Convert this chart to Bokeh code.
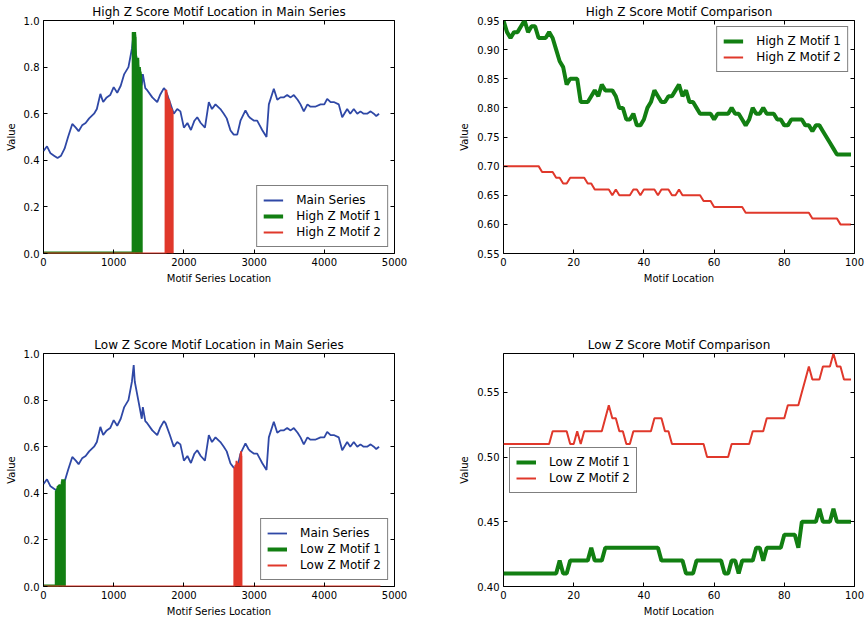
import numpy as np
from bokeh.plotting import figure
from bokeh.layouts import column, row
from bokeh.models import Range1d, LinearAxis, FixedTicker, PrintfTickFormatter, CustomJSTickFormatter
from bokeh.embed import file_html
from bokeh.resources import INLINE

FONT = "DejaVu Sans"
BLUE = "#2f48a6"
GREEN = "#127f12"
RED = "#e0382b"

# ---------------- data ----------------
main_loc = [0, 50, 100, 150, 200, 250, 300, 350, 410, 460, 500, 550, 600, 650, 720, 760,
            810, 850, 900, 950, 1000, 1050, 1100, 1150, 1210, 1260, 1285, 1300, 1350, 1400,
            1415, 1450, 1480, 1550, 1620, 1660, 1715, 1740, 1800, 1856, 1905, 1950, 2000,
            2050, 2100, 2150, 2190, 2240, 2300, 2355, 2400, 2450, 2520, 2568, 2610, 2664,
            2710, 2760, 2806, 2877, 2920, 2950, 3000, 3044, 3080, 3115, 3177, 3210, 3281,
            3330, 3376, 3420, 3471, 3520, 3566, 3620, 3661, 3708, 3760, 3803, 3870, 3946,
            4000, 4041, 4090, 4135, 4206, 4255, 4326, 4370, 4420, 4470, 4515, 4560, 4610,
            4660, 4705, 4740, 4780]
main_val = [0.44, 0.46, 0.43, 0.42, 0.41, 0.42, 0.45, 0.50, 0.556, 0.54, 0.525, 0.55, 0.56, 0.58,
            0.60, 0.62, 0.685, 0.65, 0.67, 0.68, 0.714, 0.69, 0.72, 0.77, 0.80, 0.88, 0.95, 0.88,
            0.80, 0.72, 0.77, 0.71, 0.70, 0.67, 0.65, 0.68, 0.71, 0.70, 0.65, 0.60, 0.62, 0.61,
            0.54, 0.56, 0.53, 0.57, 0.585, 0.56, 0.54, 0.65, 0.62, 0.64, 0.62, 0.60, 0.58, 0.528,
            0.51, 0.51, 0.57, 0.614, 0.59, 0.58, 0.57, 0.57, 0.55, 0.53, 0.50, 0.64, 0.707, 0.66,
            0.67, 0.67, 0.68, 0.67, 0.68, 0.66, 0.64, 0.61, 0.64, 0.63, 0.63, 0.64, 0.64, 0.664,
            0.65, 0.65, 0.64, 0.585, 0.62, 0.60, 0.62, 0.60, 0.61, 0.60, 0.60,
            0.61, 0.60, 0.59, 0.60]

high_z_motif_1 = [0.95, 0.93, 0.92, 0.93, 0.93, 0.94, 0.95, 0.93, 0.94, 0.94,
                  0.92, 0.92, 0.92, 0.93, 0.92, 0.90, 0.88, 0.87, 0.84, 0.85,
                  0.85, 0.85, 0.81, 0.81, 0.81, 0.82, 0.83, 0.82, 0.84, 0.83,
                  0.83, 0.83, 0.82, 0.80, 0.80, 0.78, 0.78, 0.79, 0.77, 0.77,
                  0.78, 0.80, 0.81, 0.83, 0.82, 0.81, 0.81, 0.82, 0.82, 0.83,
                  0.84, 0.82, 0.83, 0.81, 0.81, 0.80, 0.79, 0.79, 0.79, 0.79,
                  0.78, 0.79, 0.79, 0.79, 0.79, 0.80, 0.79, 0.79, 0.78, 0.77,
                  0.78, 0.80, 0.79, 0.79, 0.80, 0.79, 0.79, 0.79, 0.78, 0.78,
                  0.77, 0.77, 0.78, 0.78, 0.78, 0.78, 0.77, 0.77, 0.76, 0.77,
                  0.77, 0.76, 0.75, 0.74, 0.73, 0.72, 0.72, 0.72, 0.72, 0.72]
high_z_motif_2 = [0.70, 0.70, 0.70, 0.70, 0.70, 0.70, 0.70, 0.70, 0.70, 0.70,
                  0.70, 0.69, 0.69, 0.69, 0.69, 0.68, 0.68, 0.67, 0.67, 0.68,
                  0.68, 0.68, 0.68, 0.68, 0.67, 0.67, 0.66, 0.66, 0.66, 0.66,
                  0.66, 0.65, 0.66, 0.65, 0.65, 0.65, 0.65, 0.66, 0.66, 0.65,
                  0.66, 0.66, 0.66, 0.66, 0.65, 0.66, 0.66, 0.66, 0.65, 0.65,
                  0.66, 0.65, 0.65, 0.65, 0.65, 0.65, 0.65, 0.64, 0.64, 0.64,
                  0.63, 0.63, 0.63, 0.63, 0.63, 0.63, 0.63, 0.63, 0.63, 0.62,
                  0.62, 0.62, 0.62, 0.62, 0.62, 0.62, 0.62, 0.62, 0.62, 0.62,
                  0.62, 0.62, 0.62, 0.62, 0.62, 0.62, 0.62, 0.62, 0.61, 0.61,
                  0.61, 0.61, 0.61, 0.61, 0.61, 0.61, 0.60, 0.60, 0.60, 0.60]
low_z_motif_1 = [0.41, 0.41, 0.41, 0.41, 0.41, 0.41, 0.41, 0.41, 0.41, 0.41,
                 0.41, 0.41, 0.41, 0.41, 0.41, 0.41, 0.42, 0.41, 0.41, 0.42,
                 0.42, 0.42, 0.42, 0.42, 0.42, 0.43, 0.42, 0.42, 0.42, 0.43,
                 0.43, 0.43, 0.43, 0.43, 0.43, 0.43, 0.43, 0.43, 0.43, 0.43,
                 0.43, 0.43, 0.43, 0.43, 0.43, 0.42, 0.42, 0.42, 0.42, 0.42,
                 0.42, 0.42, 0.41, 0.41, 0.41, 0.42, 0.42, 0.42, 0.42, 0.42,
                 0.42, 0.42, 0.42, 0.41, 0.41, 0.42, 0.42, 0.41, 0.42, 0.42,
                 0.42, 0.42, 0.43, 0.43, 0.42, 0.43, 0.43, 0.43, 0.43, 0.43,
                 0.44, 0.44, 0.44, 0.44, 0.43, 0.45, 0.45, 0.45, 0.45, 0.45,
                 0.46, 0.45, 0.45, 0.45, 0.46, 0.45, 0.45, 0.45, 0.45, 0.45]
low_z_motif_2 = [0.51, 0.51, 0.51, 0.51, 0.51, 0.51, 0.51, 0.51, 0.51, 0.51,
                 0.51, 0.51, 0.51, 0.51, 0.52, 0.52, 0.52, 0.52, 0.52, 0.51,
                 0.51, 0.52, 0.51, 0.52, 0.52, 0.52, 0.52, 0.52, 0.52, 0.53,
                 0.54, 0.53, 0.53, 0.52, 0.52, 0.51, 0.51, 0.52, 0.52, 0.52,
                 0.52, 0.52, 0.52, 0.53, 0.53, 0.53, 0.52, 0.52, 0.51, 0.51,
                 0.51, 0.51, 0.51, 0.51, 0.51, 0.51, 0.51, 0.51, 0.50, 0.50,
                 0.50, 0.50, 0.50, 0.50, 0.50, 0.51, 0.51, 0.51, 0.51, 0.51,
                 0.51, 0.52, 0.52, 0.52, 0.52, 0.53, 0.53, 0.53, 0.53, 0.53,
                 0.53, 0.54, 0.54, 0.54, 0.54, 0.55, 0.56, 0.57, 0.56, 0.56,
                 0.56, 0.57, 0.57, 0.57, 0.58, 0.57, 0.57, 0.56, 0.56, 0.56]

# motif placement in the main series: (start index, length of the plotted motif series)
high_z1_start, high_z1_series_len = 1285, 1386
high_z2_start, high_z2_series_len = 1740, 1841
low_z1_start, low_z1_series_len = 190, 291
low_z2_start, low_z2_series_len = 2720, 4800

x_ticks_main = [0, 1000, 2000, 3000, 4000, 5000]
y_ticks_main = [0.0, 0.2, 0.4, 0.6, 0.8, 1.0]
x_ticks_motif = [0, 20, 40, 60, 80, 100]
y_ticks_high = [0.55, 0.60, 0.65, 0.70, 0.75, 0.80, 0.85, 0.90, 0.95]
y_ticks_low = [0.40, 0.45, 0.50, 0.55]


def motif_series(values, start, series_len):
    y = np.zeros(series_len)
    y[start:start + len(values)] = values
    return np.arange(series_len), y


def style(p, xticks, yticks, yfmt):
    p.outline_line_color = "black"
    p.outline_line_width = 1
    p.xgrid.visible = False
    p.ygrid.visible = False
    p.title.text_font = FONT
    p.title.text_font_size = "12px"
    p.title.text_font_style = "normal"
    p.title.text_color = "black"
    p.title.align = "center"
    p.title.standoff = 3
    for ax in p.xaxis:
        ax.ticker = FixedTicker(ticks=xticks)
    for ax in p.yaxis:
        ax.ticker = FixedTicker(ticks=yticks)
        ax.formatter = PrintfTickFormatter(format=yfmt)
    for ax in list(p.xaxis) + list(p.yaxis):
        ax.axis_line_color = None
        ax.major_tick_in = 4
        ax.major_tick_out = 0
        ax.major_tick_line_color = "black"
        ax.minor_tick_line_color = None
        ax.major_label_text_font = FONT
        ax.major_label_text_font_size = "10px"
        ax.major_label_text_color = "black"
        ax.major_label_standoff = 4
        ax.axis_label_text_font = FONT
        ax.axis_label_text_font_size = "10px"
        ax.axis_label_text_font_style = "normal"
        ax.axis_label_text_color = "black"
        ax.axis_label_standoff = 4
    for loc, t in (("above", xticks), ("right", yticks)):
        ax = LinearAxis(ticker=FixedTicker(ticks=t),
                        formatter=CustomJSTickFormatter(code="return ''"),
                        axis_line_color=None, major_tick_in=4, major_tick_out=0,
                        major_tick_line_color="black", minor_tick_line_color=None,
                        major_label_text_font_size="1px", major_label_standoff=0)
        p.add_layout(ax, loc)


def style_legend(p, location):
    lg = p.legend[0]
    lg.location = location
    lg.margin = 6
    lg.padding = 6
    lg.spacing = 0
    lg.label_height = 16
    lg.glyph_height = 16
    lg.glyph_width = 20
    lg.label_standoff = 13
    lg.label_text_font = FONT
    lg.label_text_font_size = "12px"
    lg.label_text_color = "black"
    lg.border_line_color = "black"
    lg.border_line_width = 1
    lg.background_fill_color = "white"
    lg.background_fill_alpha = 1.0


def location_panel(title, motifs, labels, width, height, borders):
    p = figure(width=width, height=height, output_backend="svg", toolbar_location=None,
               x_range=Range1d(0, 5000), y_range=Range1d(0, 1.0), title=title,
               x_axis_label="Motif Series Location", y_axis_label="Value",
               min_border_left=borders[0], min_border_right=borders[1],
               min_border_top=borders[2], min_border_bottom=borders[3])
    p.line(main_loc, main_val, color=BLUE, line_width=1.8, legend_label="Main Series")
    for (vals, start, slen), lab, col, lw in zip(motifs, labels, (GREEN, RED), (4, 2)):
        xs, ys = motif_series(vals, start, slen)
        wx = xs[start:start + len(vals)]
        p.varea(x=wx, y1=0, y2=ys[start:start + len(vals)], fill_color=col)
        p.line(xs, ys, color=col, line_width=lw, legend_label=lab)
    style(p, x_ticks_main, y_ticks_main, "%.1f")
    style_legend(p, "bottom_right")
    return p


def compare_panel(title, m1, m2, labels, yr, yticks, width, height, borders, loc):
    p = figure(width=width, height=height, output_backend="svg", toolbar_location=None,
               x_range=Range1d(0, 100), y_range=Range1d(*yr), title=title,
               x_axis_label="Motif Location", y_axis_label="Value",
               min_border_left=borders[0], min_border_right=borders[1],
               min_border_top=borders[2], min_border_bottom=borders[3])
    xs = list(range(len(m1)))
    p.line(xs, m1, color=GREEN, line_width=4, legend_label=labels[0])
    p.line(xs, m2, color=RED, line_width=2, legend_label=labels[1])
    style(p, x_ticks_motif, yticks, "%.2f")
    style_legend(p, loc)
    return p


pA = location_panel("High Z Score Motif Location in Main Series",
                    [(high_z_motif_1, high_z1_start, high_z1_series_len),
                     (high_z_motif_2, high_z2_start, high_z2_series_len)],
                    ["High Z Motif 1", "High Z Motif 2"], 440, 300, (43, 46, 20, 47))
pB = compare_panel("High Z Score Motif Comparison", high_z_motif_1, high_z_motif_2,
                   ["High Z Motif 1", "High Z Motif 2"], (0.55, 0.95), y_ticks_high,
                   425, 300, (63, 11, 20, 47), "top_right")
pC = location_panel("Low Z Score Motif Location in Main Series",
                    [(low_z_motif_1, low_z1_start, low_z1_series_len),
                     (low_z_motif_2, low_z2_start, low_z2_series_len)],
                    ["Low Z Motif 1", "Low Z Motif 2"], 440, 319, (43, 46, 53, 32))
pD = compare_panel("Low Z Score Motif Comparison", low_z_motif_1, low_z_motif_2,
                   ["Low Z Motif 1", "Low Z Motif 2"], (0.40, 0.58), y_ticks_low,
                   425, 319, (63, 11, 53, 32), "center_left")

layout = column(row(pA, pB), row(pC, pD))
open("out.html", "w").write(file_html(layout, INLINE))
